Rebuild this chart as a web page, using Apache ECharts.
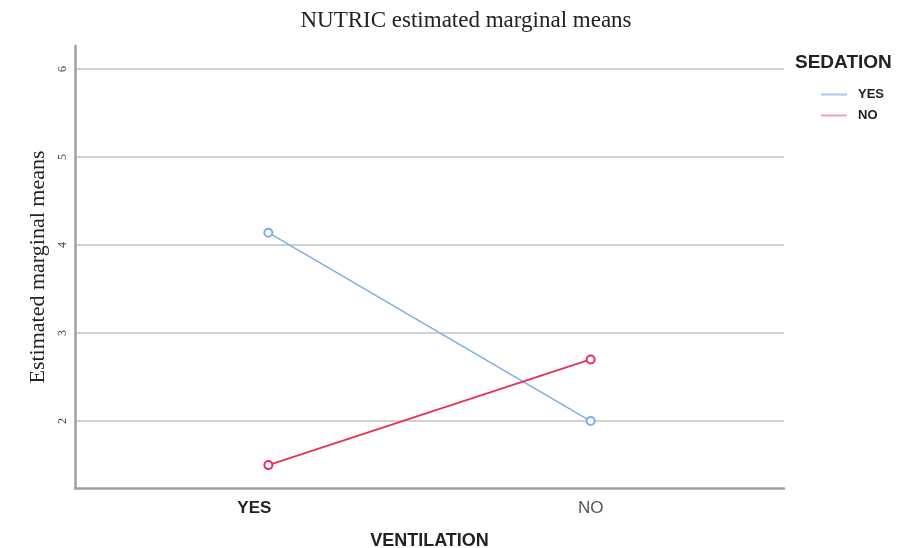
<!DOCTYPE html>
<html>
<head>
<meta charset="utf-8">
<script src="https://cdn.jsdelivr.net/npm/echarts@6/dist/echarts.min.js"></script>
<style>
  html, body { margin: 0; padding: 0; background: #fff; }
  #chart { width: 922px; height: 548px; }
</style>
</head>
<body>
<div id="chart"></div>
<script>
// 横轴类别（VENTILATION）
const ventilation = ['YES', 'NO']
// 图例分组（SEDATION）
const sedationGroups = ['YES', 'NO']
// 每组的估计边际均值
const sedationYes = [4.14, 2.0]
const sedationNo = [1.5, 2.7]
// y轴刻度
const yTicks = [2, 3, 4, 5, 6]

const chart = echarts.init(document.getElementById('chart'))

const toPoints = (vals) => vals.map((v, i) => [i, v])
// 图例线条颜色比折线浅一些
const legendColors = ['#a9c8f0', '#f4a3b6']

const option = {
  animation: false,
  title: {
    text: 'NUTRIC estimated marginal means',
    left: 461,
    textAlign: 'center',
    top: 4,
    textStyle: {
      fontFamily: 'Liberation Serif',
      fontWeight: 'normal',
      fontSize: 23,
      color: '#222'
    }
  },
  legend: {
    orient: 'vertical',
    left: 816,
    top: 83,
    itemWidth: 26,
    itemHeight: 2,
    itemGap: 8,
    icon: 'rect',
    data: sedationGroups.map((name, i) => ({ name, itemStyle: { color: legendColors[i] } })),
    textStyle: {
      fontFamily: 'Liberation Sans',
      fontWeight: 'bold',
      fontSize: 13,
      color: '#222',
      padding: [0, 0, 0, 6]
    }
  },
  graphic: [
    {
      type: 'text',
      left: 795,
      top: 53,
      style: {
        text: 'SEDATION',
        font: 'bold 19px "Liberation Sans"',
        fill: '#222'
      }
    }
  ],
  grid: {
    left: 75,
    right: 138,
    top: 46,
    bottom: 60,
    outerBoundsMode: 'none'
  },
  xAxis: {
    type: 'value',
    min: -0.6,
    max: 1.6,
    name: 'VENTILATION',
    nameLocation: 'middle',
    nameGap: 44,
    nameTextStyle: {
      fontFamily: 'Liberation Sans',
      fontWeight: 'bold',
      fontSize: 18,
      color: '#222'
    },
    axisLine: { onZero: false, lineStyle: { color: '#a0a0a0', width: 2.5 } },
    axisTick: { show: false, customValues: [0, 1] },
    splitLine: { show: false },
    axisLabel: {
      customValues: [0, 1],
      margin: 12,
      formatter: (v) => {
        const name = ventilation[Math.round(v)]
        return Math.round(v) === 0 ? '{b|' + name + '}' : '{n|' + name + '}'
      },
      rich: {
        b: {
          fontFamily: 'Liberation Sans',
          fontWeight: 'bold',
          fontSize: 17,
          color: '#222',
          padding: [0, 28, 0, 0]
        },
        n: {
          fontFamily: 'Liberation Sans',
          fontSize: 17,
          color: '#555',
          padding: [0, 0, 4, 0]
        }
      }
    }
  },
  yAxis: {
    type: 'value',
    min: 1.24,
    max: 6.26,
    name: 'Estimated marginal means',
    nameLocation: 'middle',
    nameGap: 25,
    nameTextStyle: {
      fontFamily: 'Liberation Serif',
      fontSize: 22,
      color: '#222'
    },
    axisLine: { show: true, onZero: false, lineStyle: { color: '#a0a0a0', width: 2.5 } },
    axisTick: { show: false, customValues: yTicks },
    axisLabel: {
      customValues: yTicks,
      rotate: 90,
      margin: 6,
      fontFamily: 'Liberation Serif',
      fontSize: 12,
      color: '#444'
    },
    splitLine: { show: true, lineStyle: { color: '#d2d2d2', width: 2 } }
  },
  series: [
    {
      name: sedationGroups[0],
      type: 'line',
      data: toPoints(sedationYes),
      symbol: 'emptyCircle',
      symbolSize: 8,
      lineStyle: { width: 1.5, color: '#7eaee8' },
      itemStyle: { color: '#7eaee8', borderWidth: 1.5 }
    },
    {
      name: sedationGroups[1],
      type: 'line',
      data: toPoints(sedationNo),
      symbol: 'emptyCircle',
      symbolSize: 8,
      lineStyle: { width: 1.8, color: '#e8305a' },
      itemStyle: { color: '#e8305a', borderWidth: 1.5 }
    }
  ]
}

chart.setOption(option)
</script>
</body>
</html>
